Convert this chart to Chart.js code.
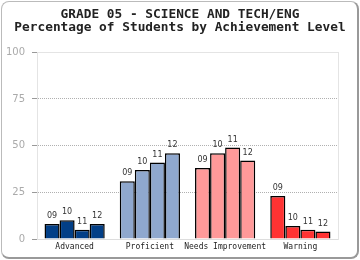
<!DOCTYPE html>
<html>
<head>
<meta charset="utf-8">
<script src="https://cdn.jsdelivr.net/npm/chart.js@4"></script>
<style>
  html, body { margin: 0; padding: 0; background: #fff; }
  #wrap { position: relative; width: 360px; height: 260px; }
  #frame { position: absolute; left: 1px; top: 1px; width: 355px; height: 255px;
           border: 1px solid #bbb; border-right: 2px solid #999; border-bottom: 2px solid #999;
           border-radius: 8px; pointer-events: none; }
</style>
</head>
<body>
<div id="wrap">
  <canvas id="chart" width="360" height="260"></canvas>
  <div id="frame"></div>
</div>
<script>
const categories = ["Advanced", "Proficient", "Needs Improvement", "Warning"];
const years = ["09", "10", "11", "12"];
const values09 = [8, 31, 38, 23];
const values10 = [10, 37, 46, 7];
const values11 = [5, 41, 49, 5];
const values12 = [8, 46, 42, 4];
const yTicks = [0, 25, 50, 75, 100];
const levelColors = ["#023F87", "#8FA8CE", "#FF9999", "#FF3333"];

const seriesValues = [values09, values10, values11, values12];

// year label above each bar
const barLabels = {
  id: "barLabels",
  afterDatasetsDraw(chart) {
    const ctx = chart.ctx;
    ctx.save();
    ctx.font = "8px 'DejaVu Sans'";
    ctx.fillStyle = "#333";
    ctx.textAlign = "center";
    ctx.textBaseline = "bottom";
    chart.data.datasets.forEach((ds, i) => {
      chart.getDatasetMeta(i).data.forEach(bar => {
        ctx.fillText(ds.label, bar.x, bar.y - 4);
      });
    });
    ctx.restore();
  }
};

new Chart(document.getElementById("chart").getContext("2d"), {
  type: "bar",
  data: {
    labels: categories,
    datasets: years.map((yr, i) => ({
      label: yr,
      data: seriesValues[i],
      backgroundColor: levelColors,
      borderColor: "#000",
      borderWidth: 1.5,
      borderSkipped: "bottom",
      barPercentage: 1,
      categoryPercentage: 0.8
    }))
  },
  options: {
    responsive: false,
    animation: false,
    layout: { padding: { left: 4, right: 4, top: 4, bottom: 0 } },
    plugins: {
      legend: { display: false },
      tooltip: { enabled: false },
      title: {
        display: true,
        text: ["GRADE 05 - SCIENCE AND TECH/ENG", "Percentage of Students by Achievement Level"],
        color: "#222",
        font: { family: "'DejaVu Sans Mono'", size: 12.8, weight: "bold", lineHeight: 0.95 },
        padding: { top: 5, bottom: 19 }
      }
    },
    scales: {
      x: {
        grid: { display: false, drawTicks: false },
        border: { color: "#ddd" },
        afterFit: s => { s.height = 21; },
        ticks: { color: "#222", font: { family: "'DejaVu Sans Mono'", size: 8 }, padding: 3, maxRotation: 0, autoSkip: false }
      },
      y: {
        min: 0, max: 100,
        afterBuildTicks: s => { s.ticks = yTicks.map(v => ({ value: v })); },
        afterFit: s => { s.width = 33; },
        ticks: { color: "#aaa", font: { family: "'DejaVu Sans'", size: 10 }, padding: 7 },
        grid: {
          color: c => c.tick && (c.tick.value === 100 || c.tick.value === 0) ? "#e4e4e4" : "#b0b0b0",
          tickColor: "#999",
          tickLength: 5,
          lineWidth: 1
        },
        border: { color: "#e4e4e4", dash: c => c.tick && c.tick.value > 0 && c.tick.value < 100 ? [1, 1] : [] }
      },
      y2: {
        position: "right",
        min: 0, max: 100,
        ticks: { display: false },
        grid: { drawOnChartArea: false, drawTicks: false },
        border: { color: "#e4e4e4" },
        afterFit: s => { s.width = 18; }
      }
    }
  },
  plugins: [barLabels]
});
</script>
</body>
</html>
